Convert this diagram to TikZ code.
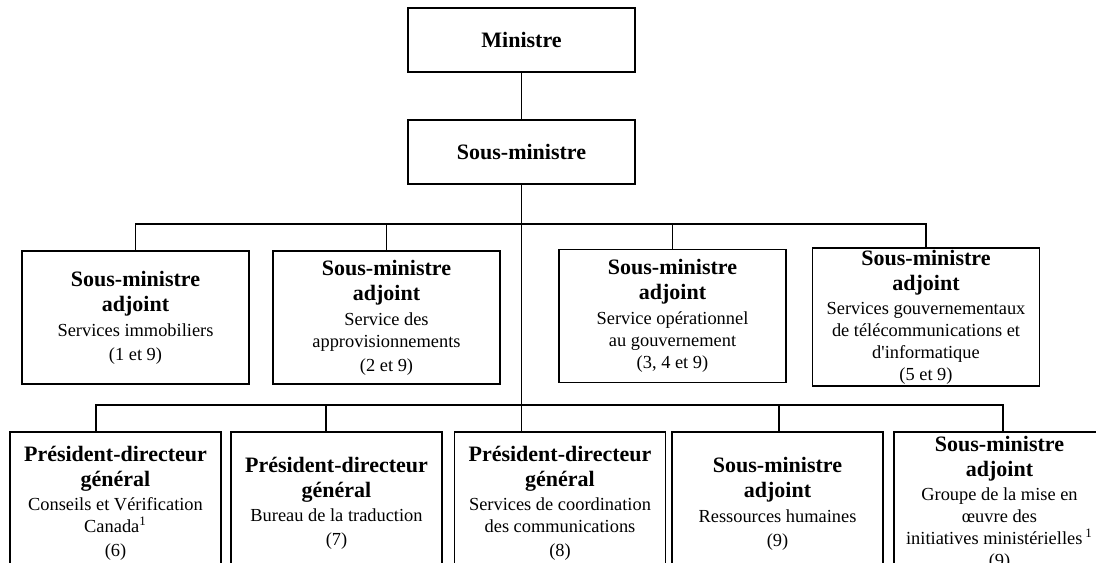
\documentclass[tikz,border=0pt]{standalone}
\usepackage{fontspec}
\setmainfont{Liberation Serif}
\usetikzlibrary{positioning,calc}
\newcommand{\hd}[1]{{\fontsize{11}{12}\selectfont\bfseries #1}}

\begin{document}
\begin{tikzpicture}[
  x=0.5pt, y=-0.5pt,
  font=\fontsize{9.2}{11}\selectfont,
  box/.style={draw, line width=0.6pt, align=center, inner sep=1pt},
  chef/.style={box, minimum width=113.5pt, minimum height=32pt},
  adj/.style={box, minimum width=113.5pt, minimum height=66.5pt},
  pdg/.style={box, minimum width=105.5pt, minimum height=71.5pt},
  lnk/.style={line width=0.6pt}
]
\useasboundingbox (0,0) rectangle (1096,562);
\clip (0,0) rectangle (1096,562);
% ---------------- top ----------------
\node[chef] (min) at (521.5,40) {\hd{Ministre}};
\node[chef] (sm) at (521.5,152) {\hd{Sous-ministre}};
% ---------------- row 1 ----------------
\node[adj] (simm) at (135.5,317.5)
  {\hd{Sous-ministre}\\[1.5pt] \hd{adjoint}\\[1.5pt] Services immobiliers\\[1pt] (1 et 9)};
\node[adj] (sapp) at (386.5,317.5)
  {\hd{Sous-ministre}\\[1.5pt] \hd{adjoint}\\[1.5pt] Service des\\ approvisionnements\\[1pt] (2 et 9)};
\node[adj] (sog) at (672.5,316)
  {\hd{Sous-ministre}\\[1.5pt] \hd{adjoint}\\[1.5pt] Service opérationnel\\ au gouvernement\\ (3, 4 et 9)};
\node[adj] (sgti) at (926,317)
  {\hd{Sous-ministre}\\[1.5pt] \hd{adjoint}\\[1pt] Services gouvernementaux\\ de télécommunications et\\ d\textquotesingle informatique\\ (5 et 9)};
% ---------------- row 2 ----------------
\node[pdg] (cvc) at (115.5,503.5)
  {\hd{Président-directeur}\\[1.5pt] \hd{général}\\[1pt] Conseils et Vérification\\ Canada\textsuperscript{1}\\[1pt] (6)};
\node[pdg] (btr) at (336.5,503.5)
  {\hd{Président-directeur}\\[1.5pt] \hd{général}\\[1pt] Bureau de la traduction\\[1pt] (7)};
\node[pdg] (scc) at (560,503.5)
  {\hd{Président-directeur}\\[1.5pt] \hd{général}\\[1pt] Services de coordination\\ des communications\\[1pt] (8)};
\node[pdg] (rh) at (777.5,503.5)
  {\hd{Sous-ministre}\\[1.5pt] \hd{adjoint}\\[1.5pt] Ressources humaines\\[1pt] (9)};
\node[pdg] (gmo) at (999.5,503.5)
  {\hd{Sous-ministre}\\[1.5pt] \hd{adjoint}\\[1pt] Groupe de la mise en\\ œuvre des\\ initiatives ministérielles\,\textsuperscript{1}\\ (9)};
% ---------------- buses ----------------
\coordinate (bus1) at (522,224);
\coordinate (d1) at (96,405);
\coordinate (d2) at (326,405);
\coordinate (d4) at (779,405);
\coordinate (d5) at (1003,405);
% ---------------- edges ----------------
\draw[lnk] (min) -- (sm);
\draw[lnk] (sm.south) -- (sm.south |- scc.north);
\draw[lnk] (simm.north) |- (bus1) -| (sgti.north);
\draw[lnk] (sapp.north) -- (sapp.north |- bus1);
\draw[lnk] (sog.north) -- (sog.north |- bus1);
\draw[lnk] (d1 |- cvc.north) -- (d1) -- (d5) -- (d5 |- gmo.north);
\draw[lnk] (d2) -- (d2 |- btr.north);
\draw[lnk] (d4) -- (d4 |- rh.north);
\end{tikzpicture}
\end{document}
